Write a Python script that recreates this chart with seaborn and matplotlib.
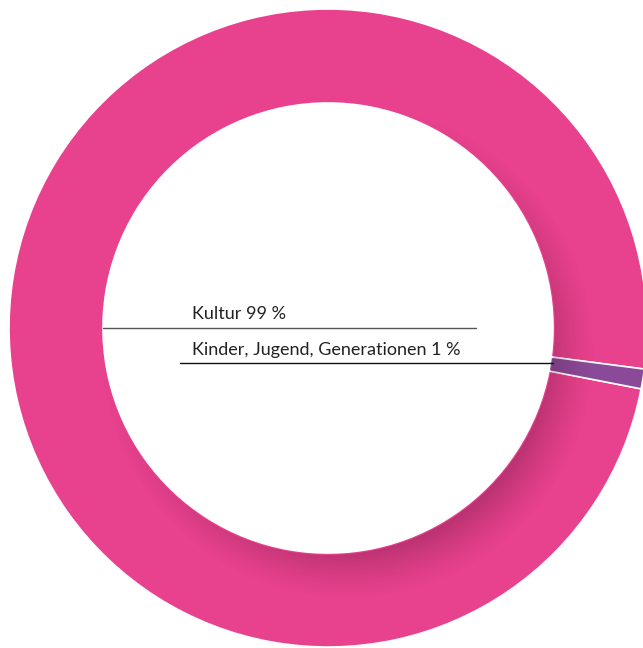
import numpy as np
import matplotlib
matplotlib.use("Agg")
import matplotlib.pyplot as plt
from matplotlib.patches import Wedge
import seaborn as sns

# Datos
categorias = ["Kultur", "Kinder, Jugend, Generationen"]
anteile = [99, 1]
farben = ["#e8418d", "#8a4a98"]

sns.set_theme(style="white")
plt.rcParams['font.family'] = ['Lato', 'DejaVu Sans']

W, H = 643, 648
fig = plt.figure(figsize=(W / 100, H / 100), dpi=100)
ax = fig.add_axes([0, 0, 1, 1])

# Geometria en pixeles (y hacia arriba)
cx, cy = 328, H - 328
r_out, r_in = 319, 225

wedges, _ = ax.pie(anteile, colors=farben, startangle=-7.4, counterclock=True,
                   radius=r_out, center=(cx, cy),
                   wedgeprops=dict(width=r_out - r_in, edgecolor="white", linewidth=1.2))

# Sombra interior (disco blanco proyecta sombra hacia abajo-derecha)
xs = np.arange(0, W) + 0.5
ys = np.arange(0, H) + 0.5
X, Y = np.meshgrid(xs, ys)
sx, sy = cx + 20, cy - 24
d = np.hypot(X - sx, Y - sy)
t = np.clip((248 - d) / 50, 0, 1)
alpha = 0.27 * t ** 1.4
# sin sombra dentro del disco blanco
alpha[np.hypot(X - cx, Y - cy) < r_in + 1.5] = 0
img = np.zeros((H, W, 4))
img[..., 0] = 0.25
img[..., 1] = 0.05
img[..., 2] = 0.15
img[..., 3] = alpha
sombra = ax.imshow(img, extent=(0, W, 0, H), origin="lower", zorder=3, interpolation="bilinear")
anillo = Wedge((cx, cy), r_out - 1, 0, 360, width=r_out - r_in - 3, transform=ax.transData)
sombra.set_clip_path(anillo)

# Etiquetas con lineas
ax.plot([103, 476], [H - 328, H - 328], color="#555555", lw=1.0, zorder=4)
ax.plot([180, 553], [H - 363, H - 363], color="#111111", lw=1.0, zorder=4)
ax.text(192, H - 319, f"{categorias[0]} {anteile[0]} %", fontsize=13, color="#222222",
        ha="left", va="baseline", zorder=5)
ax.text(192, H - 355, f"{categorias[1]} {anteile[1]} %", fontsize=13, color="#222222",
        ha="left", va="baseline", zorder=5)

ax.set_xlim(0, W)
ax.set_ylim(0, H)
ax.set_aspect("equal")
ax.axis("off")

fig.savefig("out.png", dpi=100)
